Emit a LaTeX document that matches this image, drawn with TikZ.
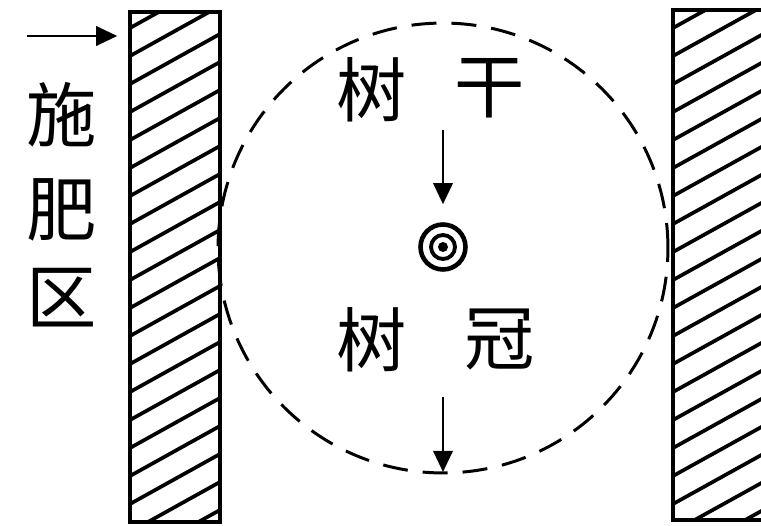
\documentclass[tikz,border=0pt]{standalone}
\usepackage{fontspec}
\newfontfamily\cjk{Noto Sans CJK SC}
\usetikzlibrary{arrows.meta}
\tikzset{
  mur/.style={draw, line width=2pt, inner sep=0pt},
  hachure/.style={line width=2.1pt},
  fleche/.style={-{Triangle[length=12pt,width=11pt]}, line width=1.5pt},
  mot/.style={font=\cjk\fontsize{40}{40}\selectfont, inner sep=0pt},
  pointille/.style={line width=1.7pt, dash pattern=on 0.5cm off 0.3cm},
}
\begin{document}
\begin{tikzpicture}[x=0.02cm, y=-0.02cm]
            \useasboundingbox (0,0) rectangle (761,526);

            % murs hachurés (gauche et droite)
            \node[mur, minimum width=1.8cm, minimum height=10.2cm] (murG) at (175,267) {};
            \node[mur, minimum width=1.84cm, minimum height=10.2cm] (murD) at (719,265) {};
            \begin{scope}
              \clip (murG.south west) rectangle (murG.north east);
              \foreach \k in {0,...,22} \draw[hachure] (130,\k*28) -- ++(90,-50);
            \end{scope}
            \begin{scope}
              \clip (murD.south west) rectangle (murD.north east);
              \foreach \k in {0,...,22} \draw[hachure] (673,\k*28) -- ++(92,-51);
            \end{scope}

            % cercle en pointillés (projection de la couronne)
            \draw[pointille] (443,248) circle (4.5cm);

            % tronc au centre
            \node[circle, draw, line width=2.6pt, minimum size=0.9cm, inner sep=0pt] (tronc) at (443,247) {};
            \draw[line width=2.2pt] (tronc) circle (0.24cm);
            \fill (tronc) circle (0.1cm);

            % textes
            \node[mot] (shi) at (62,115) {施};
            \node[mot] (fei) at (62,210) {肥};
            \node[mot] (qu) at (62,298) {区};
            \node[mot] (shuG) at (372,90) {树};
            \node[mot] (gan) at (490,88) {干};
            \node[mot] (shuC) at (372,340) {树};
            \node[mot] (guan) at (500,340) {冠};

            % flèches
            \coordinate (a0) at (27,36);
            \coordinate (h1) at (443,130);
            \coordinate (h2) at (443,397);
            \coordinate (b2) at (443,472);
            \draw[fleche, shorten >=0.22cm] (a0) -- (a0 -| murG.west);
            \draw[fleche, shorten >=0.36cm] (h1) -- (tronc.north);
            \draw[fleche] (h2) -- (b2);
        \end{tikzpicture}
\end{document}
